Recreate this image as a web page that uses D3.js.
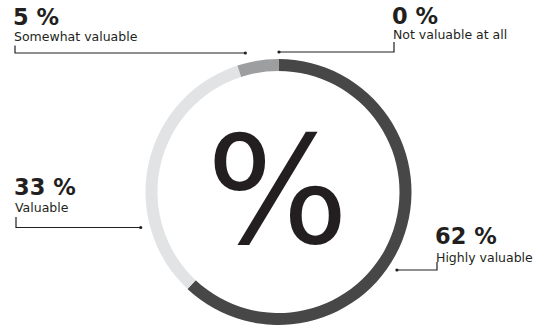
<!DOCTYPE html>
<html><head><meta charset="utf-8">
<script src="https://cdn.jsdelivr.net/npm/d3@7"></script>
<style>body{margin:0;background:#fff}svg{display:block}</style>
</head><body>
<script>
const categories = ["Highly valuable", "Valuable", "Somewhat valuable", "Not valuable at all"];
const values = [62, 33, 5, 0];
const colors = ["#474747", "#e2e3e5", "#9d9ea0", "#6d6e70"];

const W = 547, H = 325;
const cx = 278.5, cy = 192, rOuter = 133, rInner = 121, rDot = 142;
const ink = "#231f20";

// label layout: dot angle (deg, clockwise from top), label x, value baseline, name baseline, tick top, elbow y
const layout = {
  "Highly valuable":     {dot: 123.5, lx: 437, vb: 244, nb: 261.5, ty: 262, ly: 270},
  "Valuable":            {dot: 284,   lx: 16,  vb: 195, nb: 211.5, ty: 217, ly: 227.5},
  "Somewhat valuable":   {dot: 346.5, lx: 15,  vb: 25,  nb: 41,    ty: 45.5, ly: 53},
  "Not valuable at all": {dot: 0.2,   lx: 394, vb: 24,  nb: 39,    ty: 42,  ly: 52}
};

const svg = d3.select("body").append("svg").attr("width", W).attr("height", H);

const pie = d3.pie().sort(null).value(d => d.v)(categories.map((c, i) => ({c, v: values[i], col: colors[i]})));
const arc = d3.arc().innerRadius(rInner).outerRadius(rOuter);
const g = svg.append("g").attr("transform", `translate(${cx},${cy})`);
g.selectAll("path").data(pie).join("path").attr("d", arc).attr("fill", d => d.data.col);

svg.append("text").attr("x", cx - 1).attr("y", cy + 51).attr("text-anchor", "middle")
  .attr("font-family", "DejaVu Sans").attr("font-size", 150).attr("fill", ink).text("%");

categories.forEach((c, i) => {
  const L = layout[c];
  const a = L.dot * Math.PI / 180;
  const dx = cx + rDot * Math.sin(a), dy = L.ly;
  svg.append("path").attr("d", `M${L.lx},${L.ty}V${L.ly}H${dx}`).attr("fill", "none")
    .attr("stroke", ink).attr("stroke-width", 1.2);
  svg.append("circle").attr("cx", dx).attr("cy", dy).attr("r", 1.6).attr("fill", ink);
  svg.append("text").attr("x", L.lx - 2).attr("y", L.vb).attr("font-family", "DejaVu Sans")
    .attr("font-weight", "bold").attr("font-size", 22.5).attr("fill", ink).text(values[i] + " %");
  svg.append("text").attr("x", L.lx - 1).attr("y", L.nb).attr("font-family", "DejaVu Sans")
    .attr("font-size", 12.5).attr("fill", ink).text(c);
});
</script>
</body></html>
